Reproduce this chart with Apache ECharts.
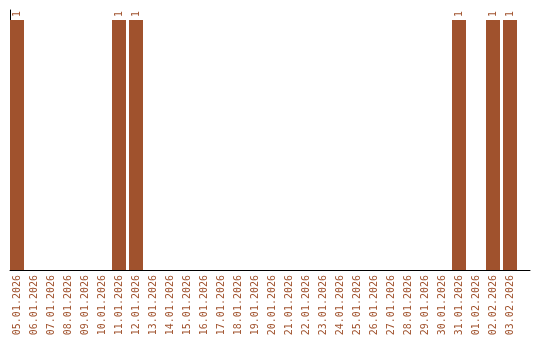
<!DOCTYPE html>
<html><head><meta charset="utf-8">
<script src="https://cdn.jsdelivr.net/npm/echarts@6/dist/echarts.min.js"></script>
<style>html,body{margin:0;padding:0;background:#fff}#c{width:540px;height:340px}</style>
</head><body><div id="c"></div>
<script>
const categories = ['05.01.2026','06.01.2026','07.01.2026','08.01.2026','09.01.2026','10.01.2026','11.01.2026','12.01.2026','13.01.2026','14.01.2026','15.01.2026','16.01.2026','17.01.2026','18.01.2026','19.01.2026','20.01.2026','21.01.2026','22.01.2026','23.01.2026','24.01.2026','25.01.2026','26.01.2026','27.01.2026','28.01.2026','29.01.2026','30.01.2026','31.01.2026','01.02.2026','02.02.2026','03.02.2026'];
const values = [1,0,0,0,0,0,1,1,0,0,0,0,0,0,0,0,0,0,0,0,0,0,0,0,0,0,1,0,1,1];
const color = '#a0522d';
const font = 'DejaVu Sans Mono';
const chart = echarts.init(document.getElementById('c'));
chart.setOption({
  animation: false,
  grid: [
    {left: 8.5, width: 510, top: 10, bottom: 70},
    {left: 10, right: 10, top: 10, bottom: 70}
  ],
  xAxis: [
    {type: 'category', gridIndex: 0, data: categories,
     axisLine: {show: false}, axisTick: {show: false},
     axisLabel: {interval: 0, rotate: 90, margin: 5, color: color, fontFamily: font, fontSize: 10}},
    {type: 'value', gridIndex: 1, min: 0, max: 1,
     axisLine: {show: true, lineStyle: {color: '#000', width: 1}},
     axisTick: {show: false}, axisLabel: {show: false}, splitLine: {show: false}}
  ],
  yAxis: [
    {type: 'value', gridIndex: 0, min: 0, max: 1.04, show: false},
    {type: 'value', gridIndex: 1, min: 0, max: 1,
     axisLine: {show: true, lineStyle: {color: '#000', width: 1}},
     axisTick: {show: false}, axisLabel: {show: false}, splitLine: {show: false}}
  ],
  series: [{
    type: 'bar', xAxisIndex: 0, yAxisIndex: 0,
    data: values.map(v => v === 0 ? null : v),
    barWidth: 14,
    itemStyle: {color: color},
    label: {show: true, position: 'top', rotate: 90, align: 'left', verticalAlign: 'middle',
            distance: 3, color: color, fontFamily: font, fontSize: 10}
  }]
});
</script></body></html>
